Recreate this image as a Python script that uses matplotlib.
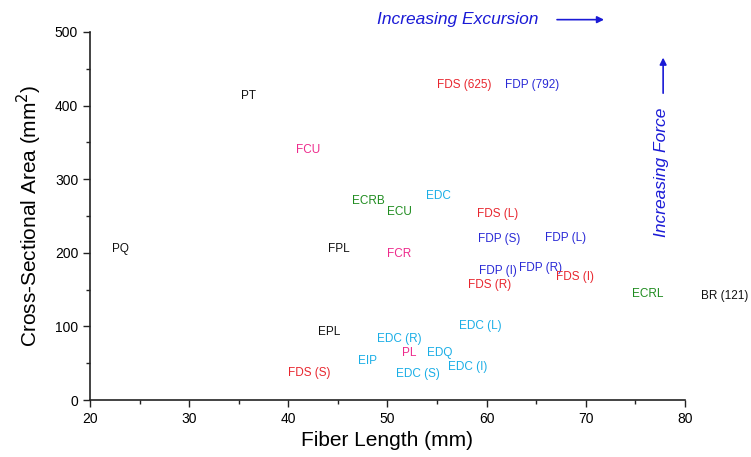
#!/usr/bin/env python3
"""Muscle architecture: fiber length vs cross-sectional area, labelled points."""

import matplotlib
matplotlib.use("Agg")
import matplotlib.pyplot as plt
from matplotlib.ticker import MultipleLocator

plt.rcParams["font.family"] = ["Liberation Sans", "DejaVu Sans"]

RED = "#e8262e"
BLUE = "#2a2ad6"
GREEN = "#1f8c1f"
CYAN = "#1aaee6"
PINK = "#ee2a8c"
BLACK = "#111111"

MUSCLES = ["PT", "FCU", "ECRB", "ECU", "EDC", "FDS (625)", "FDP (792)", "FDS (L)",
           "FDP (S)", "FDP (L)", "PQ", "FPL", "FCR", "FDP (I)", "FDP (R)", "FDS (R)",
           "FDS (I)", "ECRL", "BR (121)", "EPL", "EDC (L)", "EDC (R)", "PL", "EDQ",
           "EIP", "EDC (I)", "EDC (S)", "FDS (S)"]
FIBER_LENGTH = [36.0, 42.0, 48.1, 51.2, 55.1, 57.7, 64.6, 61.1,
                61.3, 68.0, 23.1, 45.1, 51.2, 61.1, 65.4, 60.3,
                68.9, 76.2, 84.0, 44.1, 59.4, 51.2, 52.2, 55.3,
                48.0, 58.1, 53.1, 42.1]
AREA = [413, 340, 270, 256, 277, 428, 428, 253,
        219, 220, 205, 205, 198, 175, 179, 156,
        167, 144, 141, 92, 100, 83, 64, 64,
        53, 45, 35, 37]
COLORS = [BLACK, PINK, GREEN, GREEN, CYAN, RED, BLUE, RED,
          BLUE, BLUE, BLACK, BLACK, PINK, BLUE, BLUE, RED,
          RED, GREEN, BLACK, BLACK, CYAN, CYAN, PINK, CYAN,
          CYAN, CYAN, CYAN, RED]


def main():
    fig = plt.figure(figsize=(7.51, 4.57), dpi=100)
    ax = fig.add_axes([0.1198, 0.1247, 0.7923, 0.8053])

    for name, x, y, c in zip(MUSCLES, FIBER_LENGTH, AREA, COLORS):
        ax.text(x, y, name, color=c, fontsize=8.5, ha="center", va="center", clip_on=False)

    ax.set_xlim(20, 80)
    ax.set_ylim(0, 500)
    ax.xaxis.set_major_locator(MultipleLocator(10))
    ax.xaxis.set_minor_locator(MultipleLocator(5))
    ax.yaxis.set_major_locator(MultipleLocator(100))
    ax.yaxis.set_minor_locator(MultipleLocator(50))
    ax.tick_params(which="both", direction="out", color="#222222", width=1, labelsize=10)
    ax.tick_params(which="major", length=5)
    ax.tick_params(which="minor", length=3)
    for side in ("top", "right"):
        ax.spines[side].set_visible(False)
    for side in ("left", "bottom"):
        ax.spines[side].set_linewidth(1.2)
        ax.spines[side].set_color("#222222")

    ax.set_xlabel("Fiber Length (mm)", fontsize=15, labelpad=4)
    ax.set_ylabel("Cross-Sectional Area (mm$^2$)", fontsize=15, labelpad=8)

    # direction hints
    fig.text(0.502, 0.957, "Increasing Excursion", color="#1a1ad6", fontsize=12.5,
             style="italic", ha="left", va="center")
    fig.add_artist(matplotlib.patches.FancyArrowPatch(
        (0.738, 0.957), (0.808, 0.957), transform=fig.transFigure,
        arrowstyle="-|>", mutation_scale=10, color="#1a1ad6", lw=1.2))
    fig.text(0.881, 0.623, "Increasing Force", color="#1a1ad6", fontsize=12.5,
             style="italic", rotation=90, ha="center", va="center")
    fig.add_artist(matplotlib.patches.FancyArrowPatch(
        (0.883, 0.79), (0.883, 0.88), transform=fig.transFigure,
        arrowstyle="-|>", mutation_scale=10, color="#1a1ad6", lw=1.2))

    fig.savefig("out.png", dpi=100)


if __name__ == "__main__":
    main()
